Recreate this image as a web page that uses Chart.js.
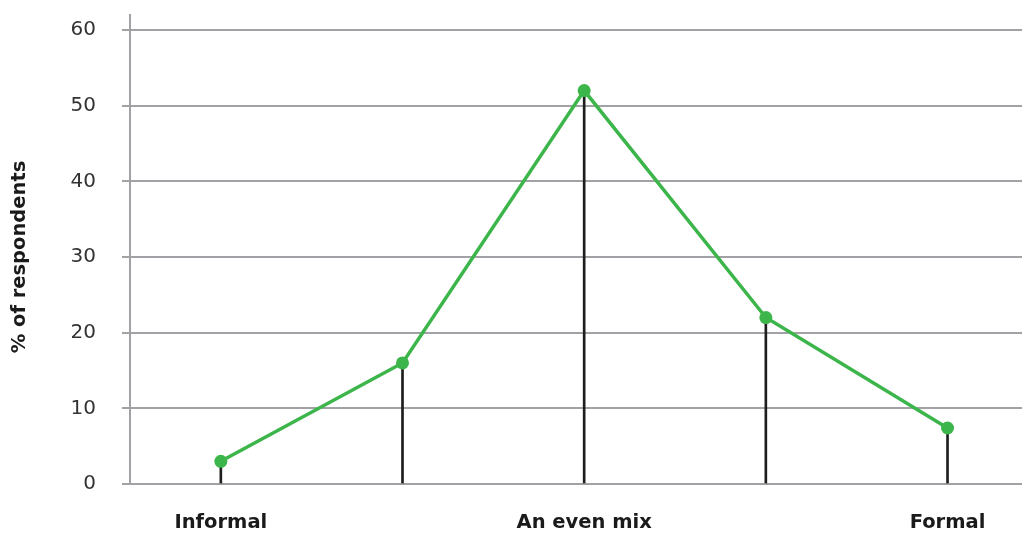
<!DOCTYPE html>
<html>
<head>
<meta charset="utf-8">
<script src="https://cdn.jsdelivr.net/npm/chart.js@4/dist/chart.umd.min.js"></script>
<style>
  body { margin: 0; background: #fff; }
</style>
</head>
<body>
<canvas id="styleChart" width="1022" height="534"></canvas>
<script>
var categories = ['Informal', '', 'An even mix', '', 'Formal'];
var respondents = [3, 16, 52, 22, 7.4];
var yTicks = [0, 10, 20, 30, 40, 50, 60];

var gridGrey = '#a2a2a6';
var green = '#3cb54a';

var points = respondents.map(function (v, i) {
    return { x: i, y: v };
});

// y axis line sticks up a little above the top gridline
var axisExtension = {
    id: 'axisExtension',
    afterDraw: function (chart) {
        var ctx = chart.ctx;
        var area = chart.chartArea;
        ctx.save();
        ctx.strokeStyle = gridGrey;
        ctx.lineWidth = 2;
        ctx.beginPath();
        ctx.moveTo(area.left, area.top - 16);
        ctx.lineTo(area.left, area.top);
        ctx.stroke();
        ctx.restore();
    }
};

var ctx = document.getElementById('styleChart').getContext('2d');
var chart = new Chart(ctx, {
    type: 'line',
    data: {
        datasets: [{
            type: 'line',
            data: points,
            borderColor: green,
            backgroundColor: green,
            borderWidth: 3.5,
            pointRadius: 6.5,
            pointBorderWidth: 0,
            tension: 0,
            order: 0
        }, {
            // thin stems from the baseline up to each point
            type: 'bar',
            data: points,
            backgroundColor: '#1e1e1e',
            barThickness: 2,
            borderWidth: 0,
            order: 1
        }]
    },
    options: {
        responsive: false,
        animation: false,
        layout: {
            autoPadding: false,
            padding: { top: 30, right: 0, left: 0, bottom: 0 }
        },
        plugins: {
            legend: { display: false },
            tooltip: { enabled: false }
        },
        scales: {
            x: {
                type: 'linear',
                offset: false,
                min: -0.5,
                max: 4.41,
                grid: { display: false, drawTicks: false },
                border: { display: false },
                afterBuildTicks: function (scale) {
                    scale.ticks = categories.map(function (c, i) { return { value: i }; });
                },
                afterFit: function (scale) {
                    scale.height = 50;
                    scale.paddingRight = 0;
                    scale.paddingLeft = 0;
                },
                ticks: {
                    padding: 27,
                    autoSkip: false,
                    maxRotation: 0,
                    color: '#1a1a1a',
                    font: { family: 'DejaVu Sans', size: 19.5, weight: 'bold' },
                    callback: function (value) { return categories[value]; }
                }
            },
            y: {
                min: 0,
                max: 60,
                afterBuildTicks: function (scale) {
                    scale.ticks = yTicks.map(function (v) { return { value: v }; });
                },
                afterFit: function (scale) {
                    scale.width = 130;
                    scale.paddingTop = 0;
                    scale.paddingBottom = 0;
                },
                grid: {
                    color: gridGrey,
                    lineWidth: 2,
                    tickLength: 8
                },
                border: { color: gridGrey, width: 2 },
                ticks: {
                    padding: 26,
                    color: '#333',
                    font: { family: 'DejaVu Sans', size: 20 }
                },
                title: {
                    display: true,
                    text: '% of respondents',
                    color: '#1a1a1a',
                    padding: { top: 8, bottom: 0 },
                    font: { family: 'DejaVu Sans', size: 19.5, weight: 'bold' }
                }
            }
        }
    },
    plugins: [axisExtension]
});
</script>
</body>
</html>
